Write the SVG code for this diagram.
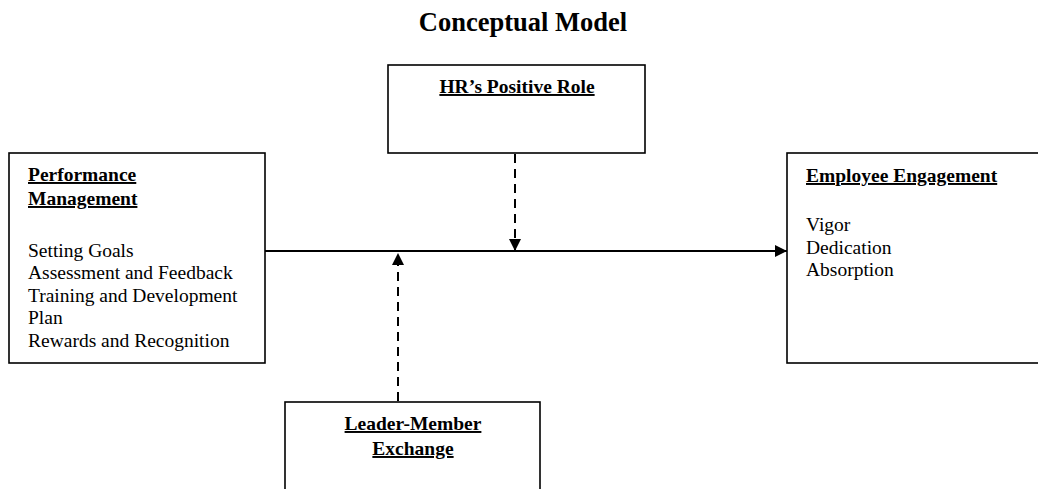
<svg xmlns="http://www.w3.org/2000/svg" width="1038" height="489" viewBox="0 0 1038 489">
<style>
.box{fill:#fff;stroke:#000;stroke-width:1.6}
.t{font-family:"Liberation Serif","Times New Roman",serif;font-size:19.5px;fill:#000}
.h{font-weight:bold;text-decoration:underline}
.ttl{font-family:"Liberation Serif","Times New Roman",serif;font-size:26.5px;font-weight:bold;fill:#000}
.ln{stroke:#000;stroke-width:2;fill:none}
.dash{stroke-dasharray:9 6}
</style>
<defs>
<marker id="ah" viewBox="0 0 12 12" refX="12" refY="6" markerWidth="12" markerHeight="12" markerUnits="userSpaceOnUse" orient="auto">
<path d="M0,0 L12,6 L0,12 Z" fill="#000"/>
</marker>
</defs>
<text class="ttl" x="523" y="30.5" text-anchor="middle">Conceptual Model</text>
<g id="performance-management">
<rect class="box" x="9" y="153" width="256" height="210"/>
<text class="t h" x="28" y="181">Performance</text>
<text class="t h" x="28" y="205">Management</text>
<text class="t" x="28" y="257">Setting Goals</text>
<text class="t" x="28" y="279">Assessment and Feedback</text>
<text class="t" x="28" y="302">Training and Development</text>
<text class="t" x="28" y="324">Plan</text>
<text class="t" x="28" y="347">Rewards and Recognition</text>
</g>
<g id="hr-positive-role">
<rect class="box" x="388" y="65" width="257" height="88"/>
<text class="t h" x="517" y="93" text-anchor="middle">HR’s Positive Role</text>
</g>
<g id="employee-engagement">
<rect class="box" x="787" y="153" width="260" height="210"/>
<text class="t h" x="806" y="182">Employee Engagement</text>
<text class="t" x="806" y="231">Vigor</text>
<text class="t" x="806" y="254">Dedication</text>
<text class="t" x="806" y="276">Absorption</text>
</g>
<g id="leader-member-exchange">
<rect class="box" x="285" y="402" width="255" height="100"/>
<text class="t h" x="413" y="430" text-anchor="middle">Leader-Member</text>
<text class="t h" x="413" y="455" text-anchor="middle">Exchange</text>
</g>
<g id="connectors">
<line class="ln" x1="265" y1="251" x2="787" y2="251" marker-end="url(#ah)"/>
<line class="ln dash" x1="515" y1="154" x2="515" y2="251" marker-end="url(#ah)"/>
<line class="ln dash" x1="398" y1="401" x2="398" y2="253" marker-end="url(#ah)"/>
</g>
</svg>
